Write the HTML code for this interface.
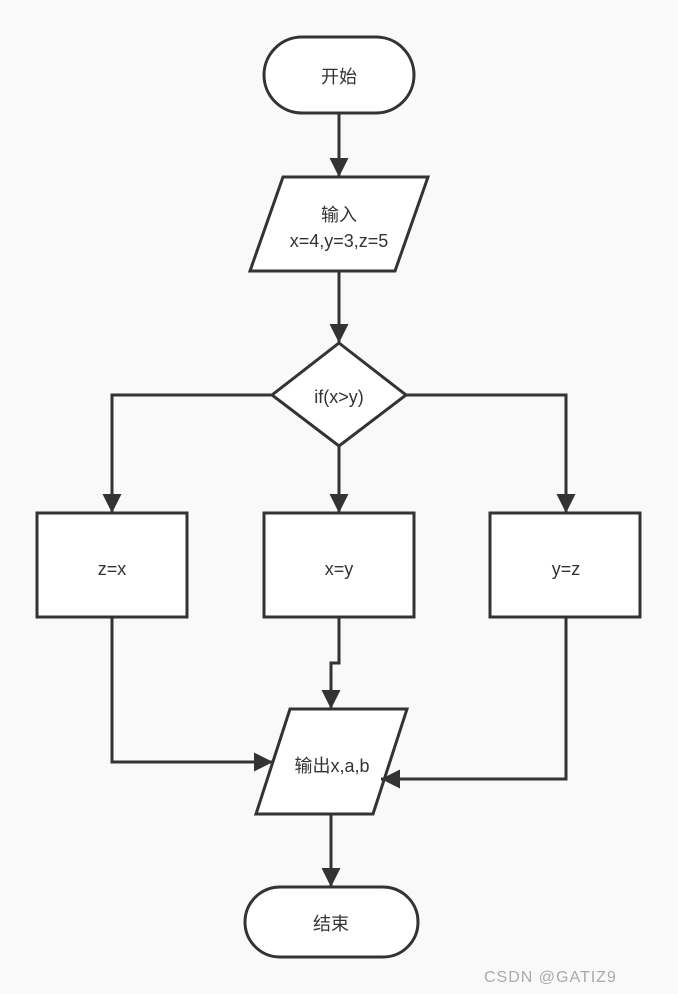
<!DOCTYPE html>
<html><head><meta charset="utf-8"><style>
html,body{margin:0;padding:0;background:#f9f9f9;}
svg{display:block}
text{font-family:"Liberation Sans","Noto Sans CJK SC",sans-serif;font-size:18px;fill:#333;}
</style></head><body>
<svg width="678" height="994" viewBox="0 0 678 994" xmlns="http://www.w3.org/2000/svg">
<defs>
<marker id="b" viewBox="0 0 10 10" markerWidth="19" markerHeight="19" refX="10" refY="5" orient="auto" markerUnits="userSpaceOnUse"><path d="M0,0 L10,5 L0,10 Z" fill="#333"/></marker></defs>
<g fill="#fff" stroke="#333" stroke-width="3">
<rect x="264" y="37" width="150" height="76" rx="38"/>
<polygon points="283,177 428,177 395,271 250,271"/>
<polygon points="339,343 406,395 339,446 272,395"/>
<rect x="37" y="513" width="150" height="104"/>
<rect x="264" y="513" width="150" height="104"/>
<rect x="490" y="513" width="150" height="104"/>
<polygon points="290,709 407,709 373,814 256,814"/>
<rect x="245" y="887" width="173" height="70" rx="35"/>
</g>
<g fill="none" stroke="#333" stroke-width="3" marker-end="url(#b)">
<path d="M339,113 V177"/>
<path d="M339,271 V343"/>
<path d="M272,395 H112 V513"/>
<path d="M406,395 H566 V513"/>
<path d="M339,446 V513"/>
<path d="M112,617 V762 H273"/>
<path d="M339,617 V663 H331 V709"/>
<path d="M566,617 V779 H381"/>
<path d="M331,814 V887"/>
</g>
<g text-anchor="middle">
<text x="339" y="83">开始</text>
<text x="339" y="221">输入</text>
<text x="339" y="247">x=4,y=3,z=5</text>
<text x="339" y="403">if(x&gt;y)</text>
<text x="112" y="575">z=x</text>
<text x="339" y="575">x=y</text>
<text x="566" y="575">y=z</text>
<text x="332" y="772">输出x,a,b</text>
<text x="331" y="930">结束</text>
</g>
<text x="484" y="982" style="font-size:16px;fill:#aaa;letter-spacing:1px">CSDN @GATIZ9</text>
</svg>
</body></html>
